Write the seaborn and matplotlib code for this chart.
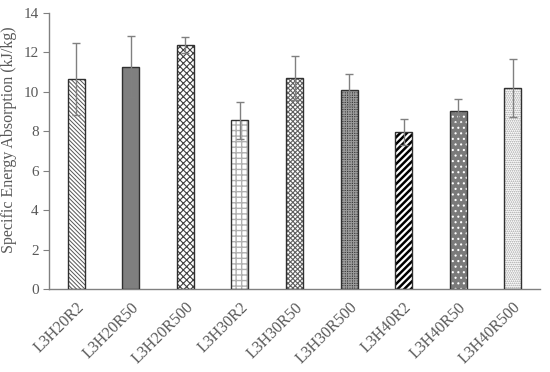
import matplotlib
matplotlib.use("Agg")
import matplotlib.pyplot as plt
from matplotlib.patches import Rectangle
import seaborn as sns
import pandas as pd

categories = ["L3H20R2", "L3H20R50", "L3H20R500", "L3H30R2", "L3H30R50",
              "L3H30R500", "L3H40R2", "L3H40R50", "L3H40R500"]
sea_values = [10.65, 11.28, 12.38, 8.56, 10.72, 10.1, 7.97, 9.03, 10.21]
sea_errors = [1.83, 1.54, 0.42, 0.95, 1.12, 0.81, 0.64, 0.59, 1.46]

sns.set_style("white")
plt.rcParams['font.family'] = ['Liberation Serif', 'DejaVu Serif']
plt.rcParams['hatch.linewidth'] = 0.8

df = pd.DataFrame({"cat": categories, "val": sea_values})

fig = plt.figure(figsize=(5.5, 3.72), dpi=100)
ax = fig.add_axes([0.089, 0.223, 0.893, 0.742])
sns.barplot(data=df, x="cat", y="val", ax=ax, color="white", width=0.31,
            errorbar=None, saturation=1)

styles = [
    ("white", "\\\\\\\\\\\\\\\\", "#555555", 0.7),
    ("#7f7f7f", "", "#7f7f7f", 0.8),
    ("white", "xxxxx", "#404040", 0.8),
    ("white", "+++", "#b0b0b0", 1.0),
    ("white", "xxxxxxx", "#606060", 0.8),
    ("#3a3a3a", "+++++++", "#9a9a9a", 0.8),
    ("white", "/////", "#000000", 1.8),
    ("#7a7a7a", "...", "#ffffff", 0.8),
    ("white", "........", "#a0a0a0", 0.8),
]

text_color = "#595959"
centers = []
for p, (fc, h, hc, hlw) in zip(ax.patches, styles):
    p.set_facecolor(fc)
    p.set_hatch(h)
    p.set_edgecolor(hc)
    p.set_linewidth(0)
    try:
        p.set_hatch_linewidth(hlw)
    except Exception:
        pass
    ax.add_patch(Rectangle(p.get_xy(), p.get_width(), p.get_height(),
                           fill=False, edgecolor="#303030", linewidth=1.0, zorder=3))
    centers.append(p.get_x() + p.get_width() / 2)

ax.errorbar(centers, sea_values, yerr=sea_errors, fmt="none", ecolor="#808080",
            elinewidth=1.0, capsize=3, capthick=1.0, zorder=4)

ax.set_ylim(0, 14)
ax.set_yticks(range(0, 15, 2))
ax.set_xlim(-0.5, len(categories) - 0.5)
ax.set_xlabel("")
ax.set_ylabel("Specific Energy Absorption (kJ/kg)", fontsize=11.5, color=text_color)
ax.yaxis.set_label_coords(-0.065, 0.54)
ax.tick_params(axis="y", labelsize=11, colors=text_color, left=True, length=4,
               width=0.8, color="#808080")
ax.tick_params(axis="x", labelsize=11.5, colors=text_color, bottom=False, pad=4)
for lab in ax.get_xticklabels():
    lab.set_rotation(45)
    lab.set_ha("right")
    lab.set_rotation_mode("anchor")
sns.despine(ax=ax)
for s in ["left", "bottom"]:
    ax.spines[s].set_color("#808080")
    ax.spines[s].set_linewidth(1.0)

fig.savefig("out.png", dpi=100)
